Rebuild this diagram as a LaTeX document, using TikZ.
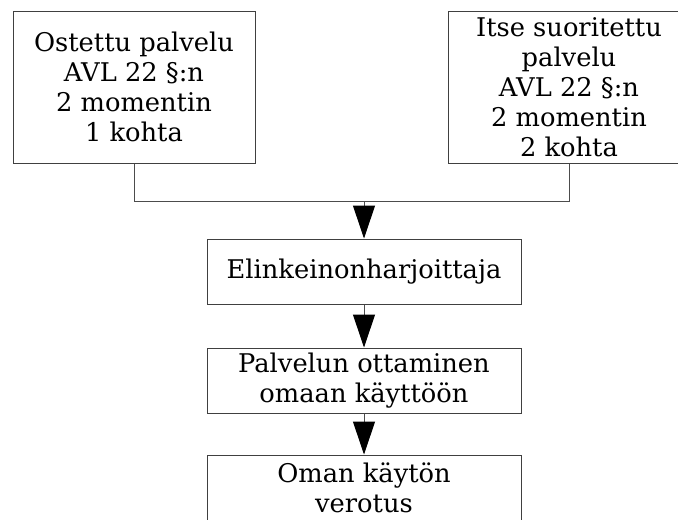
\documentclass[tikz,border=0pt]{standalone}
\usepackage{fontspec}
\setmainfont{DejaVu Serif}
\usetikzlibrary{arrows.meta}
\begin{document}
\begin{tikzpicture}[x=0.75pt,y=-0.75pt,
  box/.style={draw=black!75,line width=0.75pt,align=center,inner sep=0pt,
    font=\fontsize{19.3}{22.5}\selectfont},
  wire/.style={draw=black!70,line width=0.75pt},
  flow/.style={wire,-{Triangle[length=24.75pt,width=16.5pt,fill=black,color=black]}}]
\useasboundingbox (0,0) rectangle (678,519);
\clip (0,0) rectangle (678,519);
\fill[white] (0,0) rectangle (678,519);
% source boxes
\node[box,minimum width=181.5pt,minimum height=114pt] (buy) at (134,87)
  {Ostettu palvelu\\AVL 22 §:n\\2 momentin\\1 kohta};
\node[box,minimum width=181.5pt,minimum height=114pt] (own) at (569,87)
  {Itse suoritettu\\palvelu\\AVL 22 §:n\\2 momentin\\2 kohta};
% chain of steps
\node[box,minimum width=235.5pt,minimum height=48.75pt] (trader) at (364,271.5)
  {Elinkeinonharjoittaja};
\node[box,minimum width=235.5pt,minimum height=48.75pt] (use) at (364,380.5)
  {Palvelun ottaminen\\omaan käyttöön};
\node[box,minimum width=235.5pt,minimum height=49.5pt] (tax) at (364,488)
  {Oman käytön\\verotus};
% merging connector
\coordinate (join) at (364,201);
\draw[wire] (buy.south) |- (join);
\draw[wire] (own.south) |- (join);
\draw[flow] (join) -- (trader.north);
\draw[flow] (trader.south) -- (use.north);
\draw[flow] (use.south) -- (tax.north);
\end{tikzpicture}
\end{document}
